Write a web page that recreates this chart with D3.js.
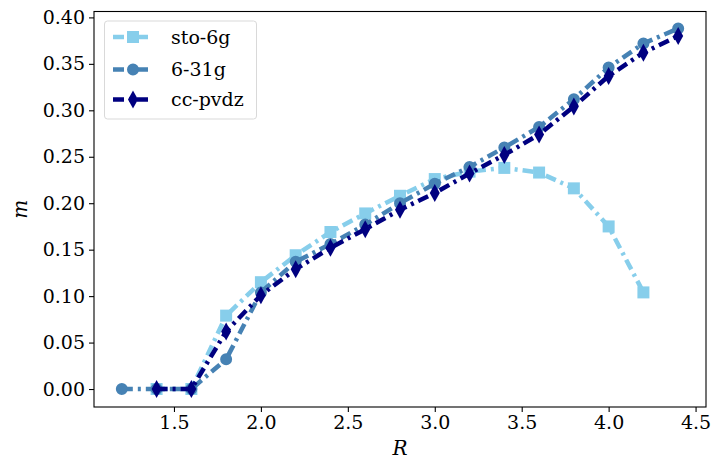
<!DOCTYPE html>
<html><head><meta charset="utf-8">
<script src="https://cdn.jsdelivr.net/npm/d3@7"></script>
<style>body{margin:0;background:#fff;} text{font-family:"DejaVu Serif",serif;}</style>
</head><body><svg id="c" width="713" height="463"></svg>
<script>
const xTicks = [1.5, 2.0, 2.5, 3.0, 3.5, 4.0, 4.5];
const yTicks = [0.00, 0.05, 0.10, 0.15, 0.20, 0.25, 0.30, 0.35, 0.40];
const seriesNames = ["sto-6g", "6-31g", "cc-pvdz"];
const rSto = [1.4, 1.6, 1.8, 2.0, 2.2, 2.4, 2.6, 2.8, 3.0, 3.2, 3.4, 3.6, 3.8, 4.0, 4.2];
const mSto = [0.000, 0.000, 0.079, 0.115, 0.144, 0.169, 0.189, 0.208, 0.226, 0.234, 0.238, 0.233, 0.216, 0.175, 0.104];
const r631 = [1.2, 1.4, 1.6, 1.8, 2.0, 2.2, 2.4, 2.6, 2.8, 3.0, 3.2, 3.4, 3.6, 3.8, 4.0, 4.2, 4.4];
const m631 = [0.000, 0.000, 0.000, 0.032, 0.104, 0.137, 0.156, 0.177, 0.200, 0.221, 0.239, 0.260, 0.282, 0.312, 0.346, 0.372, 0.388];
const rCc = [1.4, 1.6, 1.8, 2.0, 2.2, 2.4, 2.6, 2.8, 3.0, 3.2, 3.4, 3.6, 3.8, 4.0, 4.2, 4.4];
const mCc = [0.000, 0.000, 0.062, 0.101, 0.129, 0.152, 0.172, 0.193, 0.211, 0.232, 0.252, 0.274, 0.304, 0.337, 0.362, 0.380];
const colors = ["#87CEEB", "#4682B4", "#000080"];
const markers = ["square", "circle", "diamond"];

const svg = d3.select("#c");
const L = 94, R = 706, T = 11.5, B = 407;
const x = d3.scaleLinear().domain([1.04, 4.56]).range([L, R]);
const y = d3.scaleLinear().domain([-0.01935, 0.40635]).range([B, T]);

const data = [
  {name: seriesNames[0], pts: rSto.map((r,i)=>[r, mSto[i]])},
  {name: seriesNames[1], pts: r631.map((r,i)=>[r, m631[i]])},
  {name: seriesNames[2], pts: rCc.map((r,i)=>[r, mCc[i]])}
];

function markerPath(type) {
  if (type === "square") return "M-6,-6H6V6H-6Z";
  if (type === "circle") return d3.symbol(d3.symbolCircle, 113)();
  return "M0,-9L5,0L0,9L-5,0Z";
}
const dash = "11 5 3 5";

// axes
const xAxis = d3.axisBottom(x).tickValues(xTicks).tickSize(5).tickPadding(4).tickFormat(d3.format(".1f"));
const yAxis = d3.axisLeft(y).tickValues(yTicks).tickSize(5).tickPadding(4).tickFormat(d3.format(".2f"));

const line = d3.line().x(d=>x(d[0])).y(d=>y(d[1]));
const plot = svg.append("g");
data.forEach((s, i) => {
  const g = plot.append("g");
  g.append("path").attr("d", line(s.pts)).attr("fill", "none")
    .attr("stroke", colors[i]).attr("stroke-width", 4.5).attr("stroke-dasharray", dash);
  g.selectAll("path.m").data(s.pts).enter().append("path").attr("class","m")
    .attr("d", markerPath(markers[i]))
    .attr("transform", d => `translate(${x(d[0])},${y(d[1])})`)
    .attr("fill", colors[i]);
});

const gx = svg.append("g").attr("transform", `translate(0,${B})`).call(xAxis);
const gy = svg.append("g").attr("transform", `translate(${L},0)`).call(yAxis);
[gx, gy].forEach(g => {
  g.select(".domain").remove();
  g.selectAll("text").attr("font-size", 19).attr("fill", "#000").attr("font-family", "DejaVu Serif");
  g.selectAll("line").attr("stroke", "#000").attr("stroke-width", 1.1);
});
svg.append("rect").attr("x", L).attr("y", T).attr("width", R-L).attr("height", B-T)
  .attr("fill", "none").attr("stroke", "#000").attr("stroke-width", 1.1);

svg.append("text").attr("x", (L+R)/2).attr("y", 455).attr("text-anchor", "middle")
  .attr("font-size", 20).attr("font-style", "italic").text("R");
svg.append("text").attr("transform", `translate(27,${(T+B)/2}) rotate(-90)`).attr("text-anchor", "middle")
  .attr("font-size", 20).attr("font-style", "italic").text("m");

// legend
const lg = svg.append("g");
lg.append("rect").attr("x", 104.5).attr("y", 21).attr("width", 152).attr("height", 98)
  .attr("rx", 3).attr("fill", "#fff").attr("fill-opacity", 0.8).attr("stroke", "#d9d9d9").attr("stroke-width", 1);
const ly = [37, 69.5, 99.5];
seriesNames.forEach((n, i) => {
  lg.append("line").attr("x1", 113).attr("x2", 153).attr("y1", ly[i]).attr("y2", ly[i])
    .attr("stroke", colors[i]).attr("stroke-width", 4.5).attr("stroke-dasharray", dash);
  lg.append("path").attr("d", markerPath(markers[i])).attr("transform", `translate(133,${ly[i]})`).attr("fill", colors[i]);
  lg.append("text").attr("x", 171).attr("y", ly[i] + 6.5).attr("font-size", 19).text(n);
});
</script></body></html>
